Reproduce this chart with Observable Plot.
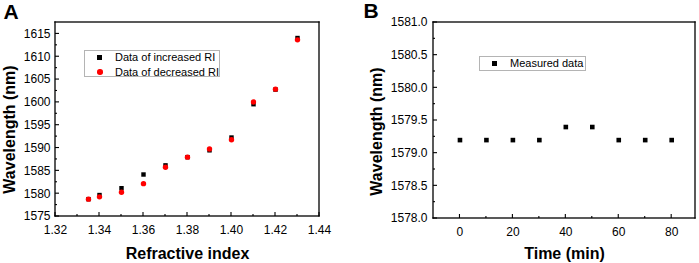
<!DOCTYPE html>
<html>
<head>
<meta charset="utf-8">
<script src="https://cdn.jsdelivr.net/npm/d3@7"></script>
<script src="https://cdn.jsdelivr.net/npm/@observablehq/plot@0.6"></script>
<style>
html, body { margin: 0; padding: 0; background: #fff; }
#wrap { display: flex; width: 699px; height: 263px; font-family: "Liberation Sans", Arial, sans-serif; }
.panel { position: relative; height: 263px; flex: none; }
.panel svg { max-width: none !important; }
.kbox { position: absolute; border: 1px solid #b4b4b4; background: #fff; box-sizing: border-box; font-size: 11px; color: #000; }
.krow { position: absolute; left: 0; height: 13px; line-height: 13px; white-space: nowrap; }
.ksq { position: absolute; width: 5px; height: 5px; background: #000; top: 4px; }
.kci { position: absolute; width: 5.5px; height: 5.5px; border-radius: 50%; background: #ff0000; top: 3.75px; }
.klbl { position: absolute; top: 0; }
</style>
</head>
<body>
<div id="wrap">
  <div id="pa" class="panel" style="width:350px"></div>
  <div id="pb" class="panel" style="width:349px"></div>
</div>
<script>
// ---- Panel A data ----
const riIncreased = [1.335, 1.34, 1.35, 1.36, 1.37, 1.38, 1.39, 1.40, 1.41, 1.42, 1.43];
const wlIncreased = [1578.8, 1579.7, 1581.2, 1584.2, 1586.2, 1588.0, 1589.5, 1592.3, 1599.6, 1602.8, 1614.1];
const riDecreased = [1.335, 1.34, 1.35, 1.36, 1.37, 1.38, 1.39, 1.40, 1.41, 1.42, 1.43];
const wlDecreased = [1578.8, 1579.3, 1580.3, 1582.2, 1585.8, 1588.0, 1589.8, 1591.8, 1600.1, 1602.9, 1613.7];
const riDomain = [1.32, 1.44];
const wlDomainA = [1575, 1617.5];
const riTicks = [1.32, 1.34, 1.36, 1.38, 1.40, 1.42, 1.44];
const riMinorTicks = [1.33, 1.35, 1.37, 1.39, 1.41, 1.43];
const wlTicksA = [1575, 1580, 1585, 1590, 1595, 1600, 1605, 1610, 1615];
const wlMinorTicksA = [1577.5, 1582.5, 1587.5, 1592.5, 1597.5, 1602.5, 1607.5, 1612.5];
const keyLabelsA = ["Data of increased RI", "Data of decreased RI"];

// ---- Panel B data ----
const timeMin = [0, 10, 20, 30, 40, 50, 60, 70, 80];
const wlMeasured = [1579.2, 1579.2, 1579.2, 1579.2, 1579.4, 1579.4, 1579.2, 1579.2, 1579.2];
const timeDomain = [-10, 89];
const wlDomainB = [1578, 1581];
const timeTicks = [0, 20, 40, 60, 80];
const timeMinorTicks = [10, 30, 50, 70];
const wlTicksB = [1578.0, 1578.5, 1579.0, 1579.5, 1580.0, 1580.5, 1581.0];
const wlMinorTicksB = [1578.25, 1578.75, 1579.25, 1579.75, 1580.25, 1580.75];
const keyLabelsB = ["Measured data"];

(() => {
  const FONT = '"Liberation Sans", Arial, sans-serif';

  const increased = riIncreased.map((x, i) => ({x, y: wlIncreased[i]}));
  const decreased = riDecreased.map((x, i) => ({x, y: wlDecreased[i]}));
  const measured = timeMin.map((x, i) => ({x, y: wlMeasured[i]}));

  // Frame edges (as filled rects positioned through the scales)
  const edges = (xd, yd) => [
    {x1: xd[0], x2: xd[0], y1: yd[0], y2: yd[1]},
    {x1: xd[1], x2: xd[1], y1: yd[0], y2: yd[1]},
    {x1: xd[0], x2: xd[1], y1: yd[0], y2: yd[0]},
    {x1: xd[0], x2: xd[1], y1: yd[1], y2: yd[1]}
  ];
  const frameMarks = (xd, yd) => [
    Plot.rect(edges(xd, yd), {x1: "x1", x2: "x2", y1: "y1", y2: "y2", fill: "#000", inset: -0.65})
  ];
  // Inward ticks (as thin filled rects)
  const xTickMarks = (ticks, yd, len) =>
    Plot.rect(ticks, {x1: d => d, x2: d => d, y1: () => yd[0], y2: () => yd[0], fill: "#000",
      insetLeft: -0.55, insetRight: -0.55, insetTop: -len, insetBottom: 0});
  const yTickMarks = (ticks, xd, len) =>
    Plot.rect(ticks, {y1: d => d, y2: d => d, x1: () => xd[0], x2: () => xd[0], fill: "#000",
      insetTop: -0.55, insetBottom: -0.55, insetLeft: 0, insetRight: -len});

  const plotA = Plot.plot({
    width: 350, height: 263,
    marginLeft: 55, marginRight: 31, marginTop: 22, marginBottom: 47,
    style: {fontFamily: FONT, fontSize: "12px", background: "transparent", color: "#000"},
    x: {domain: riDomain},
    y: {domain: wlDomainA},
    marks: [
      ...frameMarks(riDomain, wlDomainA),
      xTickMarks(riTicks, wlDomainA, 4),
      xTickMarks(riMinorTicks, wlDomainA, 2),
      yTickMarks(wlTicksA, riDomain, 4),
      yTickMarks(wlMinorTicksA, riDomain, 2),
      Plot.axisX(riTicks, {tickSize: 0, tickPadding: 9, tickFormat: d3.format(".2f"), label: null, fontSize: 12}),
      Plot.axisY(wlTicksA, {tickSize: 0, tickPadding: 5, tickFormat: d3.format("d"), label: null, fontSize: 12}),
      Plot.dot(increased, {x: "x", y: "y", symbol: "square", r: 2.5, fill: "#000"}),
      Plot.dot(decreased, {x: "x", y: "y", symbol: "circle", r: 2.7, fill: "#ff0000"}),
      Plot.text(["Refractive index"], {text: d => d, frameAnchor: "bottom", dy: 37, textAnchor: "middle", lineAnchor: "middle", fontSize: 16, fontWeight: "bold"}),
      Plot.text(["Wavelength (nm)"], {text: d => d, frameAnchor: "left", dx: -46, dy: 10, rotate: -90, textAnchor: "middle", lineAnchor: "middle", fontSize: 16, fontWeight: "bold"}),
      Plot.text(["A"], {text: d => d, frameAnchor: "top-left", dx: -52, dy: -10.5, textAnchor: "start", lineAnchor: "middle", fontSize: 21, fontWeight: "bold"})
    ]
  });
  document.getElementById("pa").appendChild(plotA);

  const plotB = Plot.plot({
    width: 349, height: 263,
    marginLeft: 83, marginRight: 4, marginTop: 22, marginBottom: 45,
    style: {fontFamily: FONT, fontSize: "12px", background: "transparent", color: "#000"},
    x: {domain: timeDomain},
    y: {domain: wlDomainB},
    marks: [
      ...frameMarks(timeDomain, wlDomainB),
      xTickMarks(timeTicks, wlDomainB, 4),
      xTickMarks(timeMinorTicks, wlDomainB, 2),
      yTickMarks(wlTicksB, timeDomain, 4),
      yTickMarks(wlMinorTicksB, timeDomain, 2),
      Plot.axisX(timeTicks, {tickSize: 0, tickPadding: 9, tickFormat: d3.format("d"), label: null, fontSize: 12}),
      Plot.axisY(wlTicksB, {tickSize: 0, tickPadding: 6, tickFormat: d3.format(".1f"), label: null, fontSize: 12}),
      Plot.dot(measured, {x: "x", y: "y", symbol: "square", r: 2.6, fill: "#000"}),
      Plot.text(["Time (min)"], {text: d => d, frameAnchor: "bottom", dy: 35, textAnchor: "middle", lineAnchor: "middle", fontSize: 16, fontWeight: "bold"}),
      Plot.text(["Wavelength (nm)"], {text: d => d, frameAnchor: "left", dx: -57, dy: 11, rotate: -90, textAnchor: "middle", lineAnchor: "middle", fontSize: 16, fontWeight: "bold"}),
      Plot.text(["B"], {text: d => d, frameAnchor: "top-left", dx: -70, dy: -11.5, textAnchor: "start", lineAnchor: "middle", fontSize: 21, fontWeight: "bold"})
    ]
  });
  document.getElementById("pb").appendChild(plotB);

  // ---- Keys (legend boxes) ----
  const drawKey = (parent, box, entries) => {
    const div = document.createElement("div");
    div.className = "kbox";
    Object.assign(div.style, {left: box.left + "px", top: box.top + "px", width: box.width + "px", height: box.height + "px"});
    entries.forEach((e, i) => {
      const row = document.createElement("div");
      row.className = "krow";
      row.style.top = (i * box.rowGap) + "px";
      const sym = document.createElement("div");
      sym.className = e.symbol === "square" ? "ksq" : "kci";
      sym.style.left = box.symX + "px";
      const lbl = document.createElement("div");
      lbl.className = "klbl";
      lbl.style.left = box.textX + "px";
      lbl.textContent = e.label;
      row.appendChild(sym);
      row.appendChild(lbl);
      div.appendChild(row);
    });
    parent.appendChild(div);
  };
  drawKey(document.getElementById("pa"), {left: 84, top: 50, width: 136, height: 27, rowGap: 14.5, symX: 12, textX: 30},
    [{symbol: "square", label: keyLabelsA[0]}, {symbol: "circle", label: keyLabelsA[1]}]);
  drawKey(document.getElementById("pb"), {left: 129, top: 56, width: 107, height: 15, rowGap: 0, symX: 12, textX: 30},
    [{symbol: "square", label: keyLabelsB[0]}]);
})();
</script>
</body>
</html>
